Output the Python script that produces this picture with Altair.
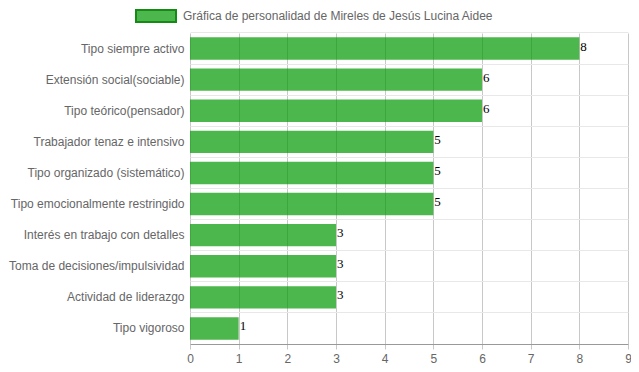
import altair as alt
import pandas as pd

categories = [
    "Tipo siempre activo",
    "Extensión social(sociable)",
    "Tipo teórico(pensador)",
    "Trabajador tenaz e intensivo",
    "Tipo organizado (sistemático)",
    "Tipo emocionalmente restringido",
    "Interés en trabajo con detalles",
    "Toma de decisiones/impulsividad",
    "Actividad de liderazgo",
    "Tipo vigoroso",
]
values = [8, 6, 6, 5, 5, 5, 3, 3, 3, 1]
series_name = "Gráfica de personalidad de Mireles de Jesús Lucina Aidee"

df = pd.DataFrame({"cat": categories, "val": values, "serie": series_name})

FONT = "Liberation Sans"
GREEN = "#009900"
LEGEND_FILL = "#4cb74c"
BORDER = "#158a15"
PI = 0.28
bp = -(PI / 2) / (1 - PI)

x_scale = alt.Scale(domain=[0, 9], nice=False)

y_enc = alt.Y(
    "cat:N",
    sort=categories,
    scale=alt.Scale(paddingInner=PI, paddingOuter=PI / 2),
    axis=alt.Axis(
        title=None,
        grid=True,
        gridColor="#e8e8e8",
        bandPosition=bp,
        ticks=False,
        domain=False,
        labelColor="#666666",
        labelFont=FONT,
        labelFontSize=12,
        labelPadding=6,
        labelLimit=300,
    ),
)

bars = alt.Chart(df).mark_bar(fill=GREEN, fillOpacity=0.7, strokeWidth=0).encode(
    x=alt.X(
        "val:Q",
        scale=x_scale,
        axis=alt.Axis(
            title=None,
            values=list(range(10)),
            format="d",
            grid=True,
            gridColor="#c8c8c8",
            domainColor="#999999",
            tickColor="#c8c8c8",
            tickSize=5,
            labelColor="#666666",
            labelFont=FONT,
            labelFontSize=12,
            labelPadding=4,
            labelFlush=False,
        ),
    ),
    y=y_enc,
)

legend_layer = alt.Chart(df).mark_point(
    filled=True, fill=LEGEND_FILL, size=0, strokeWidth=0, opacity=1
).encode(
    x=alt.X("val:Q", scale=x_scale),
    y=alt.Y("cat:N", sort=categories),
    stroke=alt.Stroke(
        "serie:N",
        scale=alt.Scale(domain=[series_name], range=[BORDER]),
        legend=alt.Legend(
            title=None,
            orient="none",
            legendX=-55,
            legendY=-38,
            padding=0,
            symbolType="M-1,-0.3H1V0.3H-1Z",
            symbolSize=1600,
            symbolFillColor=LEGEND_FILL,
            symbolStrokeColor=BORDER,
            symbolStrokeWidth=2,
            symbolOpacity=1,
            labelColor="#666666",
            labelFont=FONT,
            labelFontSize=12,
            labelOffset=6,
            labelLimit=600,
        ),
    ),
)

labels = alt.Chart(df).mark_text(
    align="left",
    baseline="middle",
    dx=1,
    dy=-2,
    font="Liberation Serif",
    fontSize=13,
    color="#000000",
).encode(
    x=alt.X("val:Q", scale=x_scale),
    y=alt.Y("cat:N", sort=categories),
    text="val:Q",
)

chart = (
    alt.layer(bars, legend_layer, labels)
    .properties(
        width=438,
        height=311,
        autosize=alt.AutoSizeParams(type="none"),
        padding={"left": 182, "top": 25, "right": 3, "bottom": 20},
    )
    .configure_view(stroke=None)
)

chart.save("out.html", embed_options={"renderer": "svg", "actions": False})
